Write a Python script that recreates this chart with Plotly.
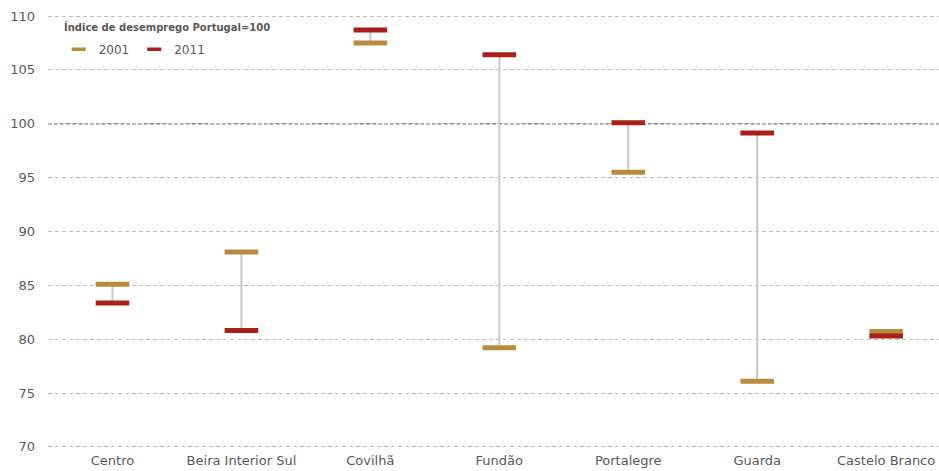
import plotly.graph_objects as go

# Unemployment index (Portugal = 100)
regions = ['Centro', 'Beira Interior Sul', 'Covilhã', 'Fundão',
           'Portalegre', 'Guarda', 'Castelo Branco']
idx_2001 = [85.1, 88.1, 107.5, 79.2, 95.5, 76.1, 80.7]
idx_2011 = [83.35, 80.8, 108.7, 106.4, 100.1, 99.15, 80.3]
years = ['2001', '2011']
y_ticks = [70, 75, 80, 85, 90, 95, 100, 105, 110]

colors = {'2001': '#B88C3F', '2011': '#A82019'}

fig = go.Figure()

# grey connectors between the two years
cx, cy = [], []
for r, a, b in zip(regions, idx_2001, idx_2011):
    cx += [r, r, None]
    cy += [a, b, None]
fig.add_trace(go.Scatter(
    x=cx, y=cy, mode='lines',
    line=dict(color='#C8C8C8', width=2),
    showlegend=False, hoverinfo='skip'
))

for yr, vals in zip(years, [idx_2001, idx_2011]):
    fig.add_trace(go.Scatter(
        x=regions, y=vals, mode='markers', name=yr, legendgroup=yr,
        showlegend=False,
        marker=dict(symbol='line-ew', size=24, line=dict(color=colors[yr], width=5))
    ))
    # small legend-only marker, like the original key
    fig.add_trace(go.Scatter(
        x=[None], y=[None], mode='markers', name=yr, legendgroup=yr,
        marker=dict(symbol='line-ew', size=10, line=dict(color=colors[yr], width=3.5))
    ))

# reference line at 100
fig.add_hline(y=100, line_dash='4px,2px', line_color='#7F7F7F', line_width=1.3, layer='below')

fig.update_layout(
    width=939, height=471,
    margin=dict(l=48, r=0, t=15, b=22, autoexpand=False),
    plot_bgcolor='white', paper_bgcolor='white',
    font=dict(family='DejaVu Sans', size=12, color='#595959'),
    showlegend=True,
    legend=dict(
        orientation='h', x=0.012, y=0.921, xanchor='left', yanchor='middle',
        font=dict(size=12, color='#595959'), bgcolor='rgba(0,0,0,0)',
        itemwidth=30, tracegroupgap=0
    ),
    xaxis=dict(
        range=[-0.5, 6.41], showgrid=False, zeroline=False, showline=False,
        ticks='', automargin=False, ticklabelstandoff=2,
        tickfont=dict(size=13, color='#595959')
    ),
    yaxis=dict(
        range=[69.8, 110.1], tickvals=y_ticks, showgrid=True,
        gridcolor='#BFBFBF', griddash='4px,3px', gridwidth=1,
        zeroline=False, showline=False, ticks='', automargin=False,
        ticklabelstandoff=12, tickfont=dict(size=13, color='#595959')
    ),
    annotations=[dict(
        text='<b>Índice de desemprego Portugal=100</b>',
        x=0.016, y=0.972, xref='paper', yref='paper',
        xanchor='left', yanchor='middle', showarrow=False,
        font=dict(size=10, color='#595959')
    )]
)

# drop the page's default body margin so the figure sits at the window origin
fig.write_html('out.html', config={'displayModeBar': False},
               post_script="document.body.style.margin='0';")
